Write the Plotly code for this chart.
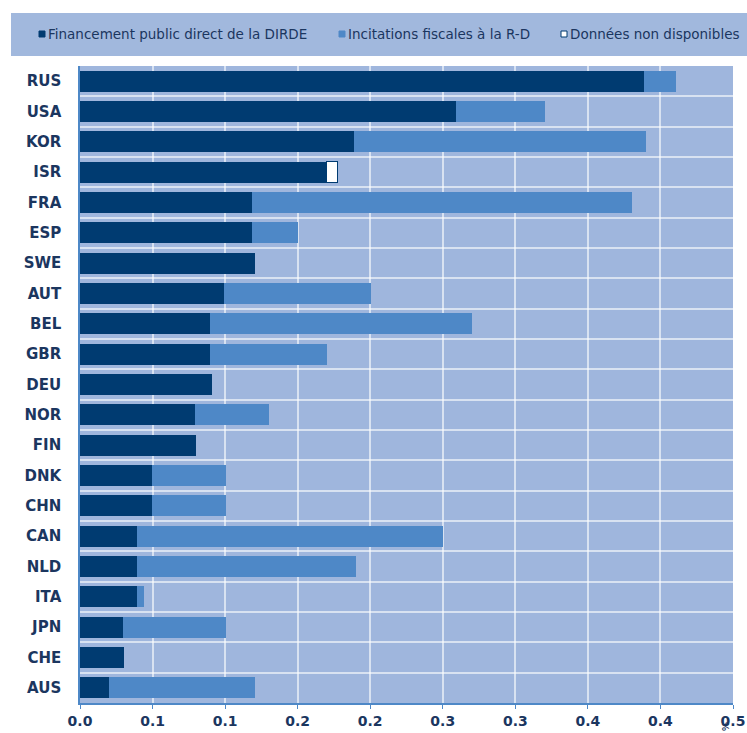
import plotly.graph_objects as go

countries = ["RUS", "USA", "KOR", "ISR", "FRA", "ESP", "SWE", "AUT", "BEL", "GBR", "DEU",
             "NOR", "FIN", "DNK", "CHN", "CAN", "NLD", "ITA", "JPN", "CHE", "AUS"]
direct = [0.432, 0.288, 0.210, 0.189, 0.132, 0.132, 0.134, 0.110, 0.0995, 0.0995, 0.101,
          0.088, 0.089, 0.055, 0.055, 0.044, 0.044, 0.044, 0.033, 0.034, 0.022]
fiscal = [0.024, 0.068, 0.223, None, 0.291, 0.035, None, 0.113, 0.2005, 0.0895, None,
          0.057, None, 0.057, 0.057, 0.234, 0.167, 0.005, 0.079, None, 0.112]
na_vals = [None, None, None, 0.008, None, None, None, None, None, None, None,
           None, None, None, None, None, None, None, None, None, None]
x_tickvals = [0, 0.5/9, 1/9, 1.5/9, 2/9, 2.5/9, 3/9, 3.5/9, 4/9, 0.5]
x_ticktext = ["0.0", "0.1", "0.1", "0.2", "0.2", "0.3", "0.3", "0.4", "0.4", "0.5"]
legend_names = ["Financement public direct de la DIRDE", "Incitations fiscales à la R-D",
                "Données non disponibles"]

DARK = "#003B71"
MID = "#4E88C7"
BG = "#9FB6DD"
TXT = "#1B365F"
GRID = "rgba(255,255,255,0.6)"

W, H = 747, 733
L, R, T, B = 80, 14, 66, 30
PW, PH = W - L - R, H - T - B


def px(x):
    return (x - L) / PW


def py(y):
    return (H - B - y) / PH


ypos = list(range(len(countries)))
colors = [DARK, MID, "white"]

fig = go.Figure()
fig.add_trace(go.Bar(y=ypos, x=direct, orientation="h", name=legend_names[0],
                     marker=dict(color=DARK, line=dict(width=0)), width=0.69))
fig.add_trace(go.Bar(y=ypos, x=fiscal, orientation="h", name=legend_names[1],
                     marker=dict(color=MID, line=dict(width=0)), width=0.69))
fig.add_trace(go.Bar(y=ypos, x=na_vals, orientation="h", name=legend_names[2],
                     marker=dict(color="white", line=dict(width=1, color=DARK)), width=0.69))

fig.update_layout(
    barmode="stack",
    width=W, height=H,
    margin=dict(l=L, r=R, t=T, b=B, autoexpand=False),
    paper_bgcolor="white",
    plot_bgcolor=BG,
    font=dict(family="DejaVu Sans, sans-serif", color=TXT),
    showlegend=False,
)

# legend box
fig.add_shape(type="rect", xref="paper", yref="paper",
              x0=px(11), x1=px(W + 2), y0=py(56), y1=py(13),
              fillcolor="#A1B8DD", line=dict(width=0), layer="below")
# legend entries
sq_x = [39, 339, 561]
for name, col, sx in zip(legend_names, colors, sq_x):
    fig.add_shape(type="rect", xref="paper", yref="paper",
                  x0=px(sx), x1=px(sx + 6), y0=py(37), y1=py(31),
                  fillcolor=col, line=dict(width=1, color=DARK if col == "white" else col))
    fig.add_annotation(text=name, xref="paper", yref="paper", x=px(sx + 7), y=py(34),
                       xanchor="left", yanchor="middle", showarrow=False,
                       font=dict(size=13.5, color=TXT, family="DejaVu Sans, sans-serif"))

fig.update_xaxes(range=[0, 0.5], tickvals=x_tickvals,
                 ticktext=[f"<b>{t}</b>" for t in x_ticktext],
                 showgrid=True, gridcolor=GRID, gridwidth=2,
                 zeroline=False, showline=True, linecolor=MID, linewidth=1.5,
                 ticks="outside", ticklen=4, tickcolor=MID,
                 tickfont=dict(size=14, color=TXT, family="DejaVu Sans, sans-serif"))
fig.update_yaxes(range=[len(countries) - 0.5, -0.5], tickvals=ypos,
                 ticktext=[f"<b>{c}</b>" for c in countries],
                 showgrid=False, zeroline=False, showline=True, linecolor=MID,
                 linewidth=1.5, ticks="", ticklabelstandoff=14,
                 minor=dict(tickvals=[i + 0.5 for i in range(-1, len(countries))],
                            showgrid=True, gridcolor=GRID, gridwidth=2),
                 tickfont=dict(size=15, color=TXT, family="DejaVu Sans, sans-serif"))

fig.add_annotation(text="<b>%</b>", xref="paper", yref="paper", x=px(725), y=py(726),
                   showarrow=False, textangle=90, font=dict(size=9, color=TXT),
                   xanchor="center", yanchor="middle")

fig.write_html("out.html")
